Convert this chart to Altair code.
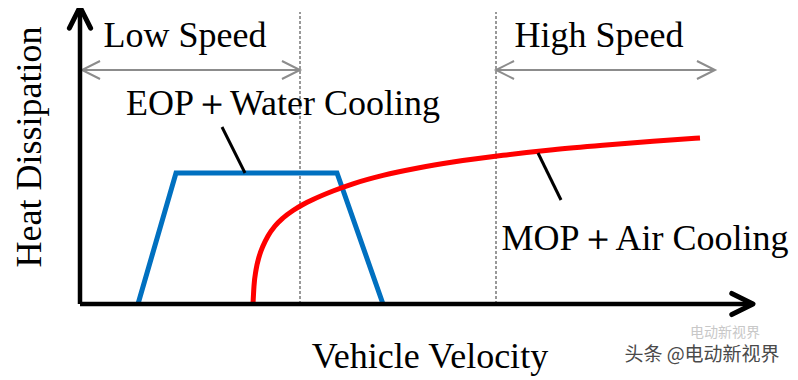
import altair as alt
import pandas as pd

# ---- data (units: velocity / heat) ----
eop_v = [58, 96, 257, 303]
eop_h = [0, 131, 131, 0]

mop_d = [0, 1, 3, 6, 10, 15, 22, 30, 40, 50, 60, 80, 100, 130, 165, 200, 250, 300, 350, 400, 447]
mop_v = [173 + d for d in mop_d]
mop_h = [0, 18, 34, 47, 58, 68, 78, 86, 93.5, 99.5, 104.5, 113, 120.2, 128.6, 136, 142, 148.7, 154.2, 158.7, 162.7, 166]

region_bounds = [220, 416]          # dashed separators
low_range = [2, 220]
high_range = [416, 635]

labels = ["Low Speed", "High Speed", "EOP＋Water Cooling", "MOP＋Air Cooling", "Vehicle Velocity"]
label_v = [105, 519, 203, 565, 350]
label_h = [257, 257, 189, 54, -64]

ylabel = "Heat Dissipation"

leader_v = [[142, 165], [458, 481]]
leader_h = [[177, 131], [151, 104]]

X_MAX, Y_MAX = 673, 297
FONT = "Liberation Serif"

xs = alt.Scale(domain=[-72, 710], nice=False, zero=False)
ys = alt.Scale(domain=[-76, 296], nice=False, zero=False)

def X(f="v"):
    return alt.X(f"{f}:Q", scale=xs, axis=None)

def Y(f="h"):
    return alt.Y(f"{f}:Q", scale=ys, axis=None)

CHEVRON = "M-1,-0.5L0,0L-1,0.5"

# axes with arrowheads
axes_df = pd.DataFrame({"v": [0, 0], "h": [0, 0], "v2": [X_MAX, 0], "h2": [0, Y_MAX]})
axes = alt.Chart(axes_df).mark_rule(color="black", strokeWidth=4.5).encode(
    x=X(), y=Y(), x2="v2:Q", y2="h2:Q")
axheads_df = pd.DataFrame({"v": [X_MAX, 0], "h": [0, Y_MAX], "a": [0, 270]})
axheads = alt.Chart(axheads_df).mark_point(
    shape=CHEVRON, size=1800, filled=False, color="black", strokeWidth=5,
    strokeJoin="round", strokeCap="round", opacity=1).encode(
    x=X(), y=Y(), angle=alt.Angle("a:Q", scale=None))

# dashed separators
dash_df = pd.DataFrame({"v": region_bounds, "h": [0, 0], "h2": [292, 292]})
dashes = alt.Chart(dash_df).mark_rule(color="#333333", strokeWidth=1, strokeDash=[3, 2]).encode(
    x=X(), y=Y(), y2="h2:Q")

# range arrows
rng_df = pd.DataFrame({"v": [low_range[0], high_range[0]], "v2": [low_range[1], high_range[1]], "h": [234, 234]})
rng = alt.Chart(rng_df).mark_rule(color="#8c8c8c", strokeWidth=2).encode(x=X(), x2="v2:Q", y=Y())
rh_df = pd.DataFrame({
    "v": [low_range[0], low_range[1], high_range[0], high_range[1]],
    "h": [234] * 4,
    "a": [180, 0, 180, 0]})
rheads = alt.Chart(rh_df).mark_point(
    shape=CHEVRON, size=1300, filled=False, color="#8c8c8c", strokeWidth=2, opacity=1).encode(
    x=X(), y=Y(), angle=alt.Angle("a:Q", scale=None))

# curves
eop_df = pd.DataFrame({"v": eop_v, "h": eop_h, "o": range(len(eop_v))})
eop = alt.Chart(eop_df).mark_line(color="#0070C0", strokeWidth=5, strokeJoin="miter").encode(
    x=X(), y=Y(), order="o:Q")
mop_df = pd.DataFrame({"v": mop_v, "h": mop_h, "o": range(len(mop_v))})
mop = alt.Chart(mop_df).mark_line(color="#FF0000", strokeWidth=5, interpolate="monotone").encode(
    x=X(), y=Y(), order="o:Q")

# leader lines
ld_df = pd.DataFrame({"v": [a[0] for a in leader_v], "v2": [a[1] for a in leader_v],
                      "h": [a[0] for a in leader_h], "h2": [a[1] for a in leader_h]})
leaders = alt.Chart(ld_df).mark_rule(color="black", strokeWidth=3).encode(
    x=X(), x2="v2:Q", y=Y(), y2="h2:Q")

# labels
lab_df = pd.DataFrame({"t": labels, "v": label_v, "h": label_h})
labs = alt.Chart(lab_df).mark_text(font=FONT, fontSize=36, color="black",
                                   align="center", baseline="alphabetic").encode(
    x=X(), y=Y(), text="t:N")
yl_df = pd.DataFrame({"t": [ylabel], "v": [-50], "h": [157]})
ylab = alt.Chart(yl_df).mark_text(font=FONT, fontSize=36, color="black", angle=270,
                                  align="center", baseline="middle").encode(
    x=X(), y=Y(), text="t:N")

# watermark
wm_df = pd.DataFrame({"t": ["电动新视界", "头条 @电动新视界"], "v": [645, 622], "h": [-29, -51],
                      "s": [14, 19], "c": ["#c8c8c8", "#4a4a4a"]})
wm = alt.Chart(wm_df).mark_text(font="Noto Sans CJK SC", align="center", baseline="middle").encode(
    x=X(), y=Y(), text="t:N",
    size=alt.Size("s:Q", scale=None, legend=None),
    color=alt.Color("c:N", scale=None, legend=None))

chart = alt.layer(dashes, rng, rheads, eop, mop, leaders, axes, axheads, labs, ylab, wm).properties(
    width=782, height=372, padding=0,
    autosize=alt.AutoSizeParams(type="none"),
    background="white"
).configure_view(stroke=None)

chart.save("out.html", embed_options={"renderer": "svg", "actions": False})
